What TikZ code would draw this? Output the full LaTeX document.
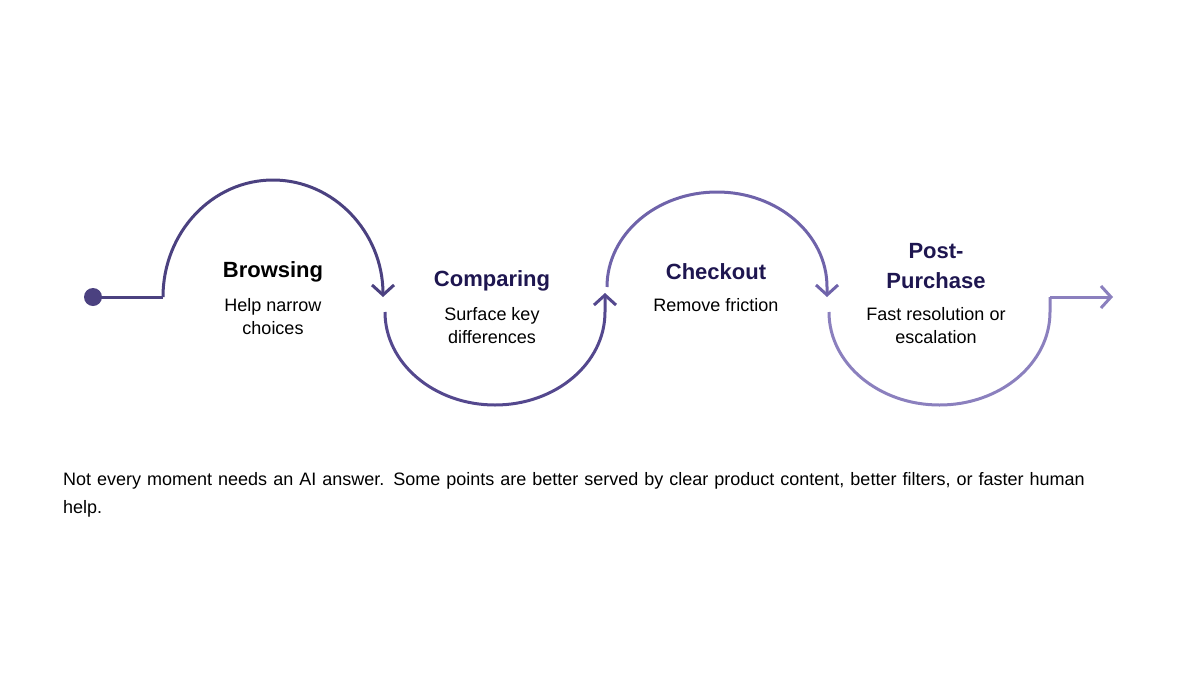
\documentclass[tikz,border=0pt]{standalone}
\usepackage{fontspec}
\setmainfont{Liberation Sans}
\usetikzlibrary{arrows.meta}
\definecolor{pathA}{HTML}{4B4180}
\definecolor{pathB}{HTML}{54488E}
\definecolor{pathC}{HTML}{6F63AA}
\definecolor{pathD}{HTML}{8B80BE}
\definecolor{titlecol}{HTML}{1E1650}
\begin{document}
\begin{tikzpicture}[x=1pt,y=-1pt,
    stage/.style={line width=3pt},
    tip/.style={-{Straight Barb[length=10pt,width=22pt,line width=3pt]}},
    title/.style={font=\fontsize{22}{26}\selectfont\bfseries,text=titlecol,align=center},
    sub/.style={font=\fontsize{18}{23}\selectfont,align=center}]
  \useasboundingbox (0,0) rectangle (1200,675);

  % start of the path
  \fill[pathA] (93,297) circle (9pt);
  \coordinate (start) at (93,297);
  \coordinate (s1) at (163,297);
  \draw[stage,pathA] (start) -- (s1);
  \draw[stage,pathA,tip] (s1) arc[start angle=180,end angle=360,x radius=110,y radius=117];
  \draw[stage,pathB,tip] (385,312) arc[start angle=180,end angle=0,x radius=110,y radius=93] -- (605,293);
  \draw[stage,pathC,tip] (607,287) arc[start angle=180,end angle=360,x radius=110,y radius=95] -- (827,297);
  \coordinate (s4) at (829,312);
  \coordinate (e4) at (1050,297);
  \coordinate (end) at (1113,297);
  \draw[stage,pathD] (s4) arc[start angle=180,end angle=0,x radius=110.5,y radius=93] -- (e4);
  \draw[stage,pathD,tip] (e4) -- (end);

  % stage labels
  \node[title,text=black] (browse) at (273,272) {Browsing};
  \node[sub] (browsesub) at (273,317) {Help narrow\\choices};
  \node[title] (compare) at (492,281) {Comparing};
  \node[sub] (comparesub) at (492,326) {Surface key\\differences};
  \node[title] (checkout) at (716,272) {Checkout};
  \node[sub] (checkoutsub) at (716,305) {Remove friction};
  \node[title,font=\fontsize{22}{30}\selectfont\bfseries] (post) at (936,266) {Post-\\Purchase};
  \node[sub] (postsub) at (936,326) {Fast resolution or\\escalation};

  \node[anchor=north west,inner sep=0pt,text width=1040pt,font=\fontsize{18}{28}\selectfont] (note) at (63,472)
    {\raggedright Not every moment needs an AI answer. Some points are better served by clear product content, better filters, or faster human help.};
\end{tikzpicture}
\end{document}
